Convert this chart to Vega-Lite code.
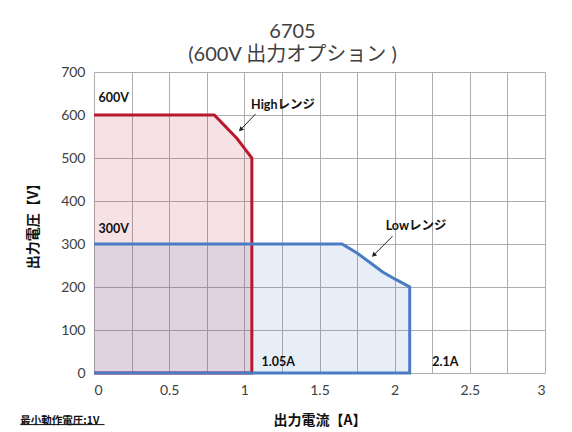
{
  "$schema": "https://vega.github.io/schema/vega-lite/v6.json",
  "width": 451,
  "height": 301,
  "autosize": "none",
  "padding": {"left": 94, "top": 72, "right": 27, "bottom": 59},
  "background": "white",
  "config": {
    "font": "Lato, Noto Sans CJK JP",
    "view": {"stroke": null},
    "axis": {
      "gridColor": "#adadad",
      "gridWidth": 1,
      "domain": false,
      "ticks": false,
      "labelFont": "Lato",
      "labelFontSize": 14,
      "labelColor": "#404040",
      "titleFont": "Noto Sans CJK JP",
      "titleFontWeight": "bold",
      "titleFontSize": 14,
      "titleColor": "#111111"
    }
  },
  "title": {
    "text": ["6705", "(600V 出力オプション )"],
    "font": "Lato, Noto Sans CJK JP",
    "fontSize": 20,
    "fontWeight": "normal",
    "color": "#404040",
    "lineHeight": 23,
    "offset": 0,
    "dx": -27
  },
  "datasets": {
    "curves": [
      {"series": "High", "i": 1, "a": 0, "v": 600},
      {"series": "High", "i": 2, "a": 0.8, "v": 600},
      {"series": "High", "i": 3, "a": 0.95, "v": 546},
      {"series": "High", "i": 4, "a": 1.0, "v": 523},
      {"series": "High", "i": 5, "a": 1.05, "v": 500},
      {"series": "High", "i": 6, "a": 1.05, "v": 0},
      {"series": "High", "i": 7, "a": 0, "v": 0},
      {"series": "Low", "i": 1, "a": 0, "v": 300},
      {"series": "Low", "i": 2, "a": 1.65, "v": 300},
      {"series": "Low", "i": 3, "a": 1.75, "v": 279},
      {"series": "Low", "i": 4, "a": 1.84, "v": 256},
      {"series": "Low", "i": 5, "a": 1.92, "v": 235},
      {"series": "Low", "i": 6, "a": 2.01, "v": 217},
      {"series": "Low", "i": 7, "a": 2.1, "v": 200},
      {"series": "Low", "i": 8, "a": 2.1, "v": 0},
      {"series": "Low", "i": 9, "a": 0, "v": 0}
    ],
    "arrows": [
      {"a": 1.074, "v": 602, "a2": 0.975, "v2": 566, "angle": 223},
      {"a": 1.986, "v": 318, "a2": 1.86, "v2": 274, "angle": 225}
    ],
    "labels": [
      {"a": 0.03, "v": 640, "t": "600V"},
      {"a": 0.03, "v": 336, "t": "300V"},
      {"a": 1.045, "v": 624, "t": "Highレンジ"},
      {"a": 1.94, "v": 341, "t": "Lowレンジ"},
      {"a": 1.114, "v": 25, "t": "1.05A"},
      {"a": 2.25, "v": 25, "t": "2.1A"}
    ],
    "note": [
      {"a": -0.49, "v": -111, "t": "最小動作電圧:1V", "a2": 0.07, "v2": -120}
    ]
  },
  "encoding": {
    "x": {
      "field": "a",
      "type": "quantitative",
      "scale": {"domain": [0, 3], "nice": false},
      "axis": {
        "title": "出力電流【A】",
        "values": [0, 0.25, 0.5, 0.75, 1, 1.25, 1.5, 1.75, 2, 2.25, 2.5, 2.75, 3],
        "format": "~g",
        "labelExpr": "(datum.value * 2) % 1 == 0 ? datum.label : ''",
        "labelPadding": 10,
        "titlePadding": 16
      }
    },
    "y": {
      "field": "v",
      "type": "quantitative",
      "stack": null,
      "scale": {"domain": [0, 700], "nice": false},
      "axis": {
        "title": "出力電圧【V】",
        "values": [0, 100, 200, 300, 400, 500, 600, 700],
        "labelPadding": 9,
        "titlePadding": 20
      }
    }
  },
  "layer": [
    {
      "data": {"name": "curves"},
      "transform": [{"filter": "datum.v > 0"}],
      "mark": {"type": "area", "fillOpacity": 0.13},
      "encoding": {
        "color": {
          "field": "series",
          "type": "nominal",
          "scale": {"domain": ["High", "Low"], "range": ["#b8182e", "#4a7cc4"]},
          "legend": null
        },
        "detail": {"field": "series"}
      }
    },
    {
      "data": {"name": "curves"},
      "mark": {"type": "line", "strokeWidth": 3, "strokeJoin": "miter"},
      "encoding": {
        "color": {
          "field": "series",
          "type": "nominal",
          "scale": {"domain": ["High", "Low"], "range": ["#b8182e", "#4a7cc4"]},
          "legend": null
        },
        "order": {"field": "i", "type": "quantitative"}
      }
    },
    {
      "data": {"name": "arrows"},
      "mark": {"type": "rule", "color": "#222222", "strokeWidth": 1},
      "encoding": {
        "x2": {"field": "a2"},
        "y2": {"field": "v2"}
      }
    },
    {
      "data": {"name": "arrows"},
      "mark": {"type": "point", "shape": "triangle-up", "filled": true, "color": "#222222", "size": 28, "opacity": 1},
      "encoding": {
        "x": {"field": "a2", "type": "quantitative"},
        "y": {"field": "v2", "type": "quantitative"},
        "angle": {"field": "angle", "type": "quantitative", "scale": null}
      }
    },
    {
      "data": {"name": "labels"},
      "mark": {"type": "text", "align": "left", "baseline": "middle", "font": "Lato, Noto Sans CJK JP", "fontWeight": "bold", "fontSize": 12.5, "color": "#111111"},
      "encoding": {"text": {"field": "t"}}
    },
    {
      "data": {"name": "note"},
      "mark": {"type": "text", "align": "left", "baseline": "middle", "font": "Noto Sans CJK JP", "fontWeight": "bold", "fontSize": 10.5, "color": "#111111", "clip": false},
      "encoding": {"text": {"field": "t"}}
    },
    {
      "data": {"name": "note"},
      "mark": {"type": "rule", "color": "#111111", "strokeWidth": 1, "clip": false},
      "encoding": {
        "y": {"field": "v2", "type": "quantitative"},
        "x2": {"field": "a2"}
      }
    }
  ]
}
